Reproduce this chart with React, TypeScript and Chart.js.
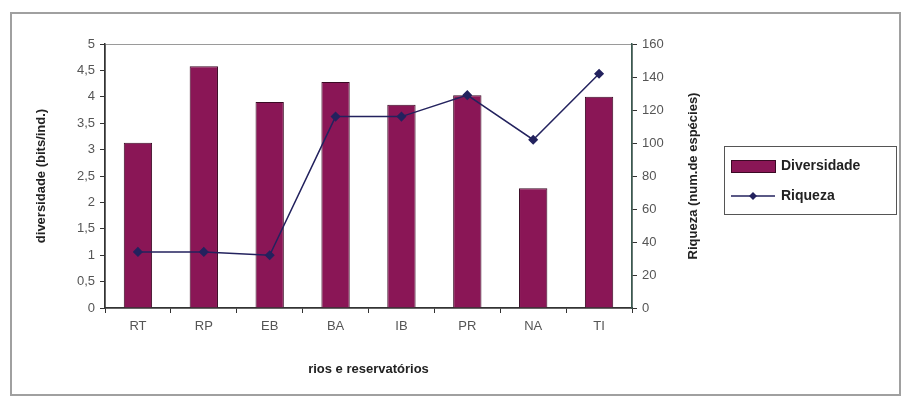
import React, { useEffect, useRef } from "react";
import { Chart, registerables } from "chart.js";
Chart.register(...registerables);

const categories = ["RT", "RP", "EB", "BA", "IB", "PR", "NA", "TI"];
const diversidade = [3.13, 4.58, 3.9, 4.28, 3.85, 4.03, 2.27, 4.0];
const riqueza = [34, 34, 32, 116, 116, 129, 102, 142];
const leftTitle = "diversidade (bits/ind.)";
const rightTitle = "Riqueza (num.de espécies)";
const xTitle = "rios e reservatórios";

const FONT = "'Liberation Sans', Arial, sans-serif";
const BAR_COLOR = "#8a1656";
const BAR_BORDER = "#3a0a24";
const LINE_COLOR = "#23225e";

const decorPlugin = {
  id: "decor",
  beforeDraw(chart: any) {
    const { ctx, chartArea: a, width, height } = chart;
    ctx.save();
    ctx.fillStyle = "#ffffff";
    ctx.fillRect(0, 0, width, height);
    ctx.strokeStyle = "#a0a0a0";
    ctx.lineWidth = 2;
    ctx.strokeRect(11, 13, width - 14, height - 19);
    ctx.strokeStyle = "#9a9a9a";
    ctx.lineWidth = 1;
    ctx.strokeRect(a.left + 0.5, a.top + 0.5, a.right - a.left, a.bottom - a.top);
    ctx.restore();
  },
  afterDraw(chart: any) {
    const { ctx, chartArea: a } = chart;
    ctx.save();
    ctx.translate(693, (a.top + a.bottom) / 2);
    ctx.rotate(-Math.PI / 2);
    ctx.font = `bold 13px ${FONT}`;
    ctx.fillStyle = "#222";
    ctx.textAlign = "center";
    ctx.textBaseline = "middle";
    ctx.fillText(rightTitle, 0, 0);
    ctx.restore();

    const ds = chart.data.datasets;
    const barDs = ds.find((d: any) => d.type === "bar");
    const lineDs = ds.find((d: any) => d.type === "line");
    const bx = 724, by = 146, bw = 172, bh = 68;
    ctx.save();
    ctx.fillStyle = "#fff";
    ctx.fillRect(bx, by, bw, bh);
    ctx.strokeStyle = "#555";
    ctx.lineWidth = 1;
    ctx.strokeRect(bx + 0.5, by + 0.5, bw, bh);
    ctx.font = `bold 14px ${FONT}`;
    ctx.textBaseline = "middle";
    ctx.fillStyle = BAR_COLOR;
    ctx.fillRect(bx + 7, by + 14, 44, 12);
    ctx.strokeStyle = BAR_BORDER;
    ctx.strokeRect(bx + 7.5, by + 14.5, 44, 12);
    ctx.fillStyle = "#222";
    ctx.fillText(barDs.label, bx + 57, by + 20);
    const ly = by + 50;
    ctx.strokeStyle = LINE_COLOR;
    ctx.lineWidth = 1.5;
    ctx.beginPath();
    ctx.moveTo(bx + 7, ly);
    ctx.lineTo(bx + 51, ly);
    ctx.stroke();
    ctx.fillStyle = LINE_COLOR;
    ctx.beginPath();
    ctx.moveTo(bx + 29, ly - 4);
    ctx.lineTo(bx + 33, ly);
    ctx.lineTo(bx + 29, ly + 4);
    ctx.lineTo(bx + 25, ly);
    ctx.closePath();
    ctx.fill();
    ctx.fillStyle = "#222";
    ctx.fillText(lineDs.label, bx + 57, ly);
    ctx.restore();
  },
};

export default function App() {
  const ref = useRef<HTMLCanvasElement>(null);
  useEffect(() => {
    document.body.style.margin = "0";
    const chart = new Chart(ref.current!, {
      data: {
        labels: categories,
        datasets: [
          {
            type: "line",
            label: "Riqueza",
            data: riqueza,
            yAxisID: "y1",
            borderColor: LINE_COLOR,
            backgroundColor: LINE_COLOR,
            borderWidth: 1.5,
            pointStyle: "rectRot",
            pointRadius: 4,
            tension: 0,
            order: 0,
          } as any,
          {
            type: "bar",
            label: "Diversidade",
            data: diversidade,
            yAxisID: "y",
            backgroundColor: BAR_COLOR,
            borderColor: BAR_BORDER,
            borderWidth: 1,
            barPercentage: 0.43,
            categoryPercentage: 1,
            order: 1,
          } as any,
        ],
      },
      options: {
        animation: false,
        responsive: false,
        layout: { padding: { left: 10, top: 44, right: 202, bottom: 20 } },
        plugins: { legend: { display: false }, tooltip: { enabled: false } },
        scales: {
          x: {
            offset: true,
            grid: {
              offset: true,
              drawOnChartArea: false,
              tickLength: 5,
              color: "#333",
            },
            border: { color: "#333", width: 1.5 },
            ticks: { color: "#555", font: { family: FONT, size: 13 }, padding: 6 },
            title: {
              display: true,
              text: xTitle,
              color: "#222",
              font: { family: FONT, size: 13, weight: "bold" },
              padding: { top: 0, bottom: 4 },
            },
            afterFit: (s: any) => { s.height = 73; },
          },
          y: {
            position: "left",
            min: 0,
            max: 5,
            ticks: {
              stepSize: 0.5,
              color: "#555",
              font: { family: FONT, size: 13 },
              padding: 5,
              callback: (v: any) => String(v).replace(".", ","),
            },
            grid: { drawOnChartArea: false, tickLength: 5, color: "#333" },
            border: { color: "#333", width: 1.5 },
            title: {
              display: true,
              text: leftTitle,
              color: "#222",
              font: { family: FONT, size: 13, weight: "bold" },
              padding: { top: 24, bottom: 0 },
            },
            afterFit: (s: any) => { s.width = 95; },
          },
          y1: {
            position: "right",
            min: 0,
            max: 160,
            ticks: {
              stepSize: 20,
              color: "#555",
              font: { family: FONT, size: 13 },
              padding: 5,
            },
            grid: { drawOnChartArea: false, tickLength: 5, color: "#333" },
            border: { color: "#3a5a50", width: 1.5 },
            afterFit: (s: any) => { s.width = 69; },
          },
        },
      } as any,
      plugins: [decorPlugin],
    });
    return () => chart.destroy();
  }, []);
  return (
    <div style={{ width: 903, height: 401 }}>
      <canvas ref={ref} width={903} height={401} style={{ display: "block" }} />
    </div>
  );
}
